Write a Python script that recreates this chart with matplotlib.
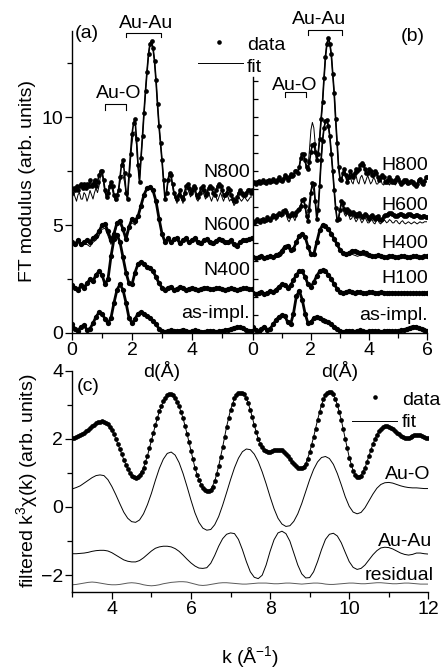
import numpy as np
import matplotlib
matplotlib.use('Agg')
import matplotlib.pyplot as plt
from matplotlib.lines import Line2D

plt.rcParams['font.family'] = ['Liberation Sans', 'DejaVu Sans']
plt.rcParams['mathtext.fontset'] = 'custom'
plt.rcParams['mathtext.rm'] = 'Liberation Sans'
plt.rcParams['font.size'] = 14

# ---- panel (a)/(b): FT modulus vs d, fine grid (0.05 A) and coarse grid (0.1 A)
d_fine = np.round(np.arange(121) * 0.05, 2)
d_coarse = np.round(np.arange(61) * 0.1, 1)

n800_data = [6.5, 6.7, 6.6, 6.8, 6.6, 6.8, 6.9, 6.7, 6.9, 6.7,
             6.9, 6.8, 7.1, 6.8, 6.9, 7.1, 6.8, 7.0, 7.3, 7.5,
             7.5, 7.1, 6.6, 6.3, 6.5, 6.8, 7.0, 6.8, 6.4, 6.2,
             6.4, 6.6, 7.2, 7.8, 8.0, 7.4, 6.5, 6.2, 7.3, 8.3,
             9.2, 9.7, 9.9, 9.0, 7.8, 7.0, 8.1, 9.1, 10.2, 11.2,
             12.1, 12.9, 13.4, 13.5, 13.2, 12.6, 11.7, 10.6, 9.6, 8.8,
             8.0, 7.1, 6.2, 6.5, 7.1, 7.4, 7.3, 6.9, 6.5, 6.3,
             6.2, 6.4, 6.6, 6.3, 6.2, 6.5, 6.8, 6.9, 6.7, 6.5,
             6.6, 6.8, 6.7, 6.4, 6.3, 6.5, 6.7, 6.8, 6.6, 6.4,
             6.5, 6.7, 6.8, 6.7, 6.5, 6.4, 6.6, 6.8, 6.9, 6.8,
             6.6, 6.4, 6.4, 6.5, 6.7, 6.6, 6.4, 6.2, 6.1, 6.1,
             6.3, 6.5, 6.6, 6.5, 6.4, 6.4, 6.5, 6.6, 6.6, 6.5,
             6.6]
n800_fit = [6.2, 6.5, 6.3, 6.1, 6.4, 6.5, 6.2, 6.2, 6.5, 6.4,
            6.1, 6.3, 6.6, 6.4, 6.2, 6.5, 6.7, 6.5, 6.8, 7.3,
            7.4, 7.0, 6.5, 6.3, 6.4, 6.6, 6.8, 6.6, 6.3, 6.1,
            6.3, 6.6, 7.0, 7.3, 7.3, 7.0, 6.6, 6.4, 7.1, 8.0,
            8.8, 9.3, 9.3, 8.7, 7.7, 7.1, 8.1, 9.1, 10.2, 11.2,
            12.1, 12.9, 13.4, 13.5, 13.2, 12.6, 11.7, 10.6, 9.6, 8.8,
            8.0, 7.1, 6.3, 6.5, 7.0, 7.3, 7.2, 6.8, 6.4, 6.2,
            6.0, 6.3, 6.5, 6.2, 6.0, 6.3, 6.6, 6.7, 6.5, 6.3,
            6.4, 6.6, 6.5, 6.2, 6.1, 6.3, 6.5, 6.6, 6.4, 6.2,
            6.3, 6.5, 6.3, 6.1, 6.3, 6.5, 6.3, 6.1, 6.3, 6.5,
            6.3, 6.1, 6.3, 6.5, 6.3, 6.1, 6.2, 6.1, 5.9, 6.0,
            6.2, 6.3, 6.2, 6.1, 6.2, 6.3, 6.2, 6.1, 6.2, 6.3,
            6.3]
n600_data = [4.2, 4.1, 4.3, 4.1, 4.2, 4.3, 4.2, 4.4, 4.5, 4.7,
             5.0, 5.05, 4.7, 4.3, 4.6, 5.1, 5.2, 4.8, 4.35, 4.9,
             5.3, 5.2, 5.4, 5.9, 6.4, 6.7, 6.75, 6.6, 6.1, 5.3,
             4.6, 4.2, 4.4, 4.2, 4.35, 4.4, 4.15, 4.3, 4.4, 4.2,
             4.3, 4.4, 4.2, 4.15, 4.3, 4.35, 4.2, 4.15, 4.25, 4.35,
             4.3, 4.2, 4.2, 4.3, 4.1, 4.05, 4.2, 4.3, 4.3, 4.35,
             4.4]
n600_fit = [4.1, 4.0, 4.2, 4.0, 4.1, 4.1, 4.0, 4.2, 4.3, 4.5,
            4.8, 4.85, 4.5, 4.1, 4.5, 5.0, 5.1, 4.7, 4.5, 5.0,
            5.1, 5.0, 5.3, 5.9, 6.4, 6.7, 6.75, 6.6, 6.1, 5.3,
            4.6, 4.2, 4.3, 4.1, 4.3, 4.3, 4.05, 4.2, 4.3, 4.1,
            4.2, 4.3, 4.1, 4.05, 4.2, 4.25, 4.1, 4.05, 4.15, 4.25,
            4.2, 4.1, 4.1, 4.2, 4.0, 3.95, 4.1, 4.2, 4.2, 4.25,
            4.3]
n400_data = [2.2, 2.1, 2.0, 2.2, 2.1, 2.3, 2.5, 2.4, 2.7, 2.85,
             2.7, 2.25, 2.5, 3.55, 4.35, 4.55, 4.2, 3.5, 2.8, 2.3,
             2.25, 2.8, 3.2, 3.3, 3.2, 3.05, 3.0, 2.85, 2.6, 2.3,
             2.1, 2.0, 2.1, 2.15, 2.0, 2.05, 2.15, 2.1, 2.0, 2.05,
             2.1, 2.05, 2.0, 2.05, 2.1, 2.07, 2.02, 2.02, 2.07, 2.08,
             2.03, 2.0, 2.04, 2.08, 2.05, 2.0, 2.02, 2.06, 2.07, 2.03,
             2.02]
n400_fit = [2.15, 2.05, 1.95, 2.1, 2.0, 2.2, 2.4, 2.3, 2.6, 2.8,
            2.65, 2.25, 2.5, 3.55, 4.35, 4.55, 4.2, 3.5, 2.8, 2.3,
            2.25, 2.8, 3.2, 3.3, 3.2, 3.05, 3.0, 2.85, 2.6, 2.3,
            2.1, 2.0, 2.05, 2.1, 1.98, 2.0, 2.1, 2.05, 1.97, 2.0,
            2.05, 2.0, 1.97, 2.0, 2.05, 2.02, 1.97, 1.98, 2.03, 2.03,
            1.98, 1.96, 2.0, 2.03, 2.0, 1.96, 1.98, 2.02, 2.02, 1.98,
            1.98]
asa_data = [0.4, 0.2, 0.1, 0.3, 0.35, 0.15, 0.2, 0.45, 0.75, 0.95,
            0.9, 0.65, 0.45, 0.7, 1.4, 2.0, 2.25, 2.0, 1.4, 0.7,
            0.45, 0.65, 0.9, 0.97, 0.9, 0.8, 0.7, 0.55, 0.4, 0.2,
            0.08, 0.05, 0.1, 0.12, 0.1, 0.08, 0.1, 0.15, 0.1, 0.05,
            0.08, 0.12, 0.1, 0.06, 0.05, 0.08, 0.1, 0.08, 0.06, 0.08,
            0.1, 0.12, 0.15, 0.2, 0.25, 0.28, 0.28, 0.22, 0.15, 0.1,
            0.1]
asa_fit = [0.38, 0.18, 0.1, 0.28, 0.33, 0.15, 0.2, 0.44, 0.74, 0.94,
           0.9, 0.65, 0.45, 0.7, 1.4, 2.0, 2.25, 2.0, 1.4, 0.7,
           0.45, 0.65, 0.9, 0.97, 0.9, 0.8, 0.7, 0.55, 0.4, 0.2,
           0.1, 0.1, 0.15, 0.18, 0.15, 0.12, 0.15, 0.2, 0.16, 0.1,
           0.12, 0.16, 0.14, 0.1, 0.08, 0.1, 0.13, 0.12, 0.1, 0.1,
           0.12, 0.15, 0.18, 0.22, 0.27, 0.3, 0.3, 0.25, 0.18, 0.13,
           0.12]

h800_data = [6.95, 7.0, 6.9, 7.0, 7.05, 6.95, 7.0, 7.1, 7.0, 6.95,
             7.05, 7.1, 7.0, 7.05, 7.15, 7.05, 7.0, 7.1, 7.2, 7.1,
             7.05, 7.15, 7.3, 7.2, 7.1, 7.2, 7.35, 7.25, 7.3, 7.5,
             7.5, 7.4, 7.7, 8.1, 8.3, 8.3, 8.0, 7.7, 7.6, 7.9,
             8.4, 8.7, 8.75, 8.4, 8.0, 8.3, 9.0, 9.9, 10.7, 11.8,
             12.8, 13.4, 13.65, 13.4, 12.9, 12.0, 11.1, 9.9, 8.8, 7.7,
             7.15, 7.1, 7.4, 7.6, 7.3, 7.0, 7.2, 7.5, 7.3, 7.2,
             7.4, 7.6, 7.5, 7.6, 7.8, 7.85, 7.8, 7.6, 7.4, 7.4,
             7.6, 7.5, 7.3, 7.3, 7.5, 7.4, 7.2, 7.1, 7.2, 7.3,
             7.2, 7.0, 7.0, 7.1, 7.2, 7.1, 7.0, 7.0, 7.1, 7.2,
             7.15, 7.0, 6.9, 7.0, 7.1, 7.1, 7.0, 6.95, 7.0, 7.05,
             7.0, 6.9, 6.8, 6.9, 7.1, 7.15, 7.0, 6.9, 7.05, 7.2,
             7.2]
h800_fit = [6.95, 6.95, 6.9, 6.95, 7.0, 6.9, 6.95, 7.05, 6.95, 6.9,
            7.0, 7.05, 6.95, 7.0, 7.1, 7.0, 6.95, 7.05, 7.15, 7.05,
            7.0, 7.1, 7.25, 7.15, 7.05, 7.15, 7.3, 7.2, 7.25, 7.45,
            7.45, 7.4, 7.7, 8.1, 8.3, 8.2, 7.9, 7.6, 7.7, 8.5,
            9.4, 9.75, 9.5, 8.7, 8.1, 8.4, 9.0, 9.9, 10.7, 11.8,
            12.8, 13.4, 13.65, 13.4, 12.9, 12.0, 11.1, 9.9, 8.8, 7.7,
            7.15, 7.1, 7.3, 7.5, 7.2, 6.9, 7.1, 7.3, 7.0, 6.9,
            7.2, 7.3, 7.0, 6.9, 7.2, 7.3, 7.1, 6.9, 7.1, 7.3,
            7.1, 6.9, 7.0, 7.2, 7.1, 6.9, 6.9, 7.1, 7.1, 6.9,
            6.85, 7.0, 7.1, 6.95, 6.85, 6.95, 7.05, 6.95, 6.85, 6.95,
            7.05, 6.95, 6.85, 6.9, 7.0, 6.95, 6.85, 6.85, 6.95, 6.95,
            6.85, 6.8, 6.8, 6.9, 7.0, 6.95, 6.85, 6.85, 6.95, 7.0,
            7.0]
h600_data = [5.2, 5.1, 5.2, 5.3, 5.2, 5.15, 5.25, 5.3, 5.2, 5.25,
             5.35, 5.3, 5.25, 5.35, 5.45, 5.4, 5.35, 5.45, 5.55, 5.5,
             5.5, 5.65, 5.7, 5.6, 5.45, 5.4, 5.45, 5.55, 5.5, 5.45,
             5.6, 5.7, 5.75, 5.9, 6.15, 6.2, 5.9, 5.4, 5.2, 5.7,
             6.5, 6.95, 6.9, 6.1, 5.3, 5.7, 6.8, 8.0, 8.9, 9.5,
             9.8, 9.85, 9.6, 9.1, 8.3, 7.5, 6.6, 5.8, 5.25, 5.3,
             5.7, 6.1, 6.0, 5.75, 5.6, 5.75, 5.65, 5.5, 5.55, 5.6,
             5.5, 5.4, 5.5, 5.55, 5.45, 5.35, 5.4, 5.5, 5.45, 5.35,
             5.3, 5.4, 5.45, 5.35, 5.3, 5.35, 5.4, 5.3, 5.25, 5.3,
             5.4, 5.45, 5.45, 5.5, 5.55, 5.55, 5.5, 5.45, 5.4, 5.4,
             5.45, 5.5, 5.5, 5.45, 5.4, 5.4, 5.45, 5.5, 5.5, 5.45,
             5.4, 5.4, 5.45, 5.45, 5.4, 5.35, 5.35, 5.4, 5.4, 5.35,
             5.35]
h600_fit = [5.15, 5.05, 5.15, 5.25, 5.15, 5.1, 5.2, 5.25, 5.15, 5.2,
            5.3, 5.25, 5.15, 5.25, 5.4, 5.3, 5.2, 5.35, 5.5, 5.4,
            5.35, 5.55, 5.65, 5.5, 5.25, 5.15, 5.3, 5.5, 5.35, 5.2,
            5.4, 5.65, 5.7, 5.9, 6.1, 6.1, 5.8, 5.5, 5.6, 6.1,
            6.6, 6.8, 6.6, 6.0, 5.5, 5.9, 6.8, 8.0, 8.9, 9.5,
            9.8, 9.85, 9.6, 9.1, 8.3, 7.5, 6.6, 5.8, 5.25, 5.35,
            5.7, 6.0, 5.8, 5.5, 5.4, 5.55, 5.45, 5.25, 5.3, 5.45,
            5.3, 5.15, 5.25, 5.4, 5.25, 5.1, 5.2, 5.35, 5.25, 5.1,
            5.1, 5.25, 5.25, 5.1, 5.05, 5.2, 5.25, 5.1, 5.05, 5.15,
            5.25, 5.2, 5.1, 5.15, 5.25, 5.2, 5.1, 5.1, 5.2, 5.2,
            5.1, 5.05, 5.15, 5.2, 5.1, 5.05, 5.1, 5.15, 5.1, 5.05,
            5.1, 5.15, 5.1, 5.05, 5.1, 5.15, 5.1, 5.1, 5.15, 5.15,
            5.15]
h400_data = [3.5, 3.45, 3.5, 3.55, 3.45, 3.5, 3.55, 3.5, 3.6, 3.65,
             3.8, 4.0, 4.05, 3.85, 3.9, 4.2, 4.5, 4.6, 4.45, 4.0,
             3.65, 3.65, 4.2, 4.75, 5.0, 4.95, 4.8, 4.6, 4.35, 4.1,
             3.85, 3.7, 3.65, 3.7, 3.8, 3.8, 3.75, 3.7, 3.75, 3.7,
             3.6, 3.55, 3.55, 3.6, 3.55, 3.5, 3.5, 3.55, 3.55, 3.5,
             3.5, 3.55, 3.55, 3.5, 3.5, 3.55, 3.55, 3.5, 3.5, 3.55,
             3.55]
h400_fit = [3.45, 3.4, 3.45, 3.5, 3.4, 3.45, 3.5, 3.45, 3.5, 3.5,
            3.6, 3.85, 3.95, 3.8, 3.9, 4.2, 4.5, 4.6, 4.45, 4.0,
            3.65, 3.65, 4.2, 4.75, 5.0, 4.95, 4.8, 4.6, 4.35, 4.1,
            3.85, 3.65, 3.55, 3.6, 3.65, 3.6, 3.55, 3.6, 3.6, 3.55,
            3.5, 3.5, 3.5, 3.55, 3.5, 3.45, 3.45, 3.5, 3.5, 3.45,
            3.45, 3.5, 3.5, 3.45, 3.45, 3.5, 3.5, 3.45, 3.45, 3.5,
            3.5]
h100_data = [1.85, 1.8, 1.85, 1.9, 1.8, 1.85, 1.95, 1.9, 2.0, 2.15,
             2.25, 2.2, 2.1, 2.2, 2.45, 2.7, 2.85, 2.85, 2.6, 2.25,
             2.15, 2.35, 2.65, 2.85, 2.9, 2.85, 2.7, 2.5, 2.25, 2.05,
             1.9, 1.85, 1.9, 1.95, 1.9, 1.85, 1.9, 1.9, 1.85, 1.85,
             1.9, 1.88, 1.85, 1.85, 1.88, 1.87, 1.85, 1.85, 1.87, 1.85,
             1.83, 1.85, 1.87, 1.85, 1.83, 1.85, 1.85, 1.83, 1.83, 1.85,
             1.85]
h100_fit = [1.82, 1.78, 1.82, 1.86, 1.78, 1.82, 1.9, 1.86, 1.96, 2.1,
            2.2, 2.16, 2.08, 2.18, 2.44, 2.7, 2.85, 2.85, 2.6, 2.25,
            2.15, 2.35, 2.65, 2.85, 2.9, 2.85, 2.7, 2.5, 2.25, 2.05,
            1.88, 1.82, 1.86, 1.9, 1.86, 1.82, 1.86, 1.86, 1.82, 1.82,
            1.86, 1.84, 1.82, 1.82, 1.84, 1.83, 1.82, 1.82, 1.83, 1.82,
            1.8, 1.82, 1.83, 1.82, 1.8, 1.82, 1.82, 1.8, 1.8, 1.82,
            1.82]
asb_data = [0.3, 0.15, 0.05, 0.2, 0.3, 0.15, 0.2, 0.4, 0.6, 0.75,
            0.82, 0.8, 0.5, 0.4, 0.9, 1.7, 1.95, 1.55, 0.9, 0.45,
            0.5, 0.7, 0.75, 0.7, 0.6, 0.55, 0.5, 0.4, 0.3, 0.2,
            0.1, 0.05, 0.08, 0.1, 0.08, 0.06, 0.1, 0.12, 0.08, 0.05,
            0.07, 0.1, 0.1, 0.07, 0.05, 0.07, 0.1, 0.1, 0.08, 0.08,
            0.1, 0.12, 0.15, 0.2, 0.25, 0.3, 0.3, 0.25, 0.18, 0.12,
            0.1]
asb_fit = [0.28, 0.14, 0.06, 0.2, 0.28, 0.15, 0.2, 0.4, 0.6, 0.75,
           0.82, 0.8, 0.5, 0.4, 0.9, 1.7, 1.95, 1.55, 0.9, 0.45,
           0.5, 0.7, 0.75, 0.7, 0.6, 0.55, 0.5, 0.4, 0.3, 0.2,
           0.12, 0.1, 0.12, 0.14, 0.12, 0.1, 0.13, 0.15, 0.12, 0.1,
           0.1, 0.13, 0.13, 0.1, 0.09, 0.1, 0.13, 0.13, 0.11, 0.11,
           0.12, 0.14, 0.17, 0.22, 0.27, 0.31, 0.31, 0.26, 0.2, 0.14,
           0.12]

# ---- panel (c): filtered k^3 chi(k); data every 0.05, model curves every 0.1
k_data = np.round(np.arange(60, 241) * 0.05, 2)
k = np.round(np.arange(30, 121) / 10, 1)
chi_data = [2.02, 2.03, 2.05, 2.07, 2.10, 2.14, 2.18, 2.22, 2.27, 2.32,
            2.37, 2.41, 2.45, 2.48, 2.50, 2.51, 2.50, 2.47, 2.42, 2.35,
            2.25, 2.13, 2.00, 1.85, 1.70, 1.54, 1.38, 1.23, 1.10, 1.00,
            0.92, 0.87, 0.86, 0.88, 0.93, 1.02, 1.15, 1.31, 1.50, 1.72,
            1.95, 2.18, 2.40, 2.61, 2.80, 2.96, 3.10, 3.20, 3.27, 3.30,
            3.31, 3.27, 3.20, 3.09, 2.95, 2.79, 2.60, 2.38, 2.15, 1.90,
            1.65, 1.40, 1.15, 0.95, 0.78, 0.65, 0.55, 0.49, 0.46, 0.46,
            0.50, 0.60, 0.75, 0.96, 1.20, 1.47, 1.75, 2.05, 2.35, 2.62,
            2.85, 3.03, 3.18, 3.27, 3.33, 3.35, 3.35, 3.30, 3.20, 3.05,
            2.85, 2.63, 2.40, 2.19, 2.00, 1.86, 1.75, 1.68, 1.64, 1.62,
            1.62, 1.64, 1.66, 1.68, 1.68, 1.68, 1.66, 1.61, 1.55, 1.48,
            1.40, 1.32, 1.25, 1.19, 1.15, 1.13, 1.13, 1.17, 1.25, 1.40,
            1.60, 1.82, 2.05, 2.30, 2.55, 2.79, 3.00, 3.16, 3.28, 3.35,
            3.38, 3.36, 3.30, 3.17, 3.00, 2.79, 2.55, 2.28, 2.00, 1.72,
            1.45, 1.23, 1.05, 0.94, 0.88, 0.87, 0.92, 1.02, 1.15, 1.32,
            1.50, 1.68, 1.85, 2.00, 2.12, 2.22, 2.30, 2.34, 2.36, 2.36,
            2.35, 2.32, 2.28, 2.23, 2.18, 2.13, 2.08, 2.05, 2.03, 2.02,
            2.03, 2.05, 2.08, 2.10, 2.11, 2.11, 2.10, 2.08, 2.05, 2.03,
            2.02]
chi_fit = [2.03, 2.05, 2.1, 2.17, 2.26, 2.36, 2.45, 2.5, 2.5, 2.42,
           2.25, 2.0, 1.7, 1.39, 1.11, 0.92, 0.87, 0.94, 1.15, 1.5,
           1.95, 2.4, 2.8, 3.1, 3.27, 3.31, 3.2, 2.95, 2.6, 2.15,
           1.65, 1.15, 0.79, 0.55, 0.47, 0.51, 0.75, 1.2, 1.75, 2.35,
           2.85, 3.18, 3.33, 3.34, 3.2, 2.85, 2.4, 2.0, 1.75, 1.65,
           1.63, 1.66, 1.67, 1.65, 1.55, 1.4, 1.26, 1.16, 1.14, 1.26,
           1.6, 2.05, 2.55, 3.0, 3.28, 3.37, 3.3, 3.0, 2.55, 2.0,
           1.46, 1.06, 0.89, 0.93, 1.15, 1.5, 1.85, 2.12, 2.29, 2.35,
           2.34, 2.28, 2.18, 2.09, 2.04, 2.04, 2.08, 2.1, 2.09, 2.05,
           2.03]
au_o = [0.53, 0.57, 0.62, 0.7, 0.78, 0.86, 0.92, 0.94, 0.92, 0.8,
        0.6, 0.36, 0.1, -0.15, -0.33, -0.43, -0.45, -0.38, -0.2, 0.07,
        0.4, 0.78, 1.13, 1.4, 1.57, 1.61, 1.52, 1.3, 0.98, 0.6,
        0.2, -0.17, -0.45, -0.62, -0.68, -0.66, -0.52, -0.28, 0.05, 0.42,
        0.8, 1.15, 1.43, 1.62, 1.7, 1.68, 1.55, 1.33, 1.03, 0.68,
        0.3, -0.05, -0.33, -0.5, -0.57, -0.55, -0.42, -0.2, 0.1, 0.45,
        0.8, 1.1, 1.32, 1.45, 1.48, 1.42, 1.25, 0.98, 0.65, 0.3,
        0.02, -0.15, -0.2, -0.16, -0.02, 0.18, 0.38, 0.55, 0.66, 0.71,
        0.72, 0.7, 0.66, 0.62, 0.59, 0.57, 0.56, 0.56, 0.55, 0.54,
        0.54]
au_au = [-1.37, -1.37, -1.36, -1.35, -1.33, -1.3, -1.28, -1.27, -1.27, -1.29,
         -1.34, -1.41, -1.48, -1.55, -1.59, -1.61, -1.61, -1.57, -1.49, -1.39,
         -1.29, -1.21, -1.17, -1.15, -1.15, -1.17, -1.22, -1.3, -1.41, -1.53,
         -1.64, -1.73, -1.79, -1.8, -1.78, -1.65, -1.42, -1.15, -0.93, -0.8,
         -0.76, -0.78, -0.95, -1.25, -1.6, -1.9, -2.06, -2.1, -2.0, -1.7,
         -1.3, -0.96, -0.76, -0.71, -0.78, -1.0, -1.35, -1.7, -1.96, -2.08,
         -2.07, -1.9, -1.6, -1.25, -0.95, -0.8, -0.77, -0.85, -1.05, -1.33,
         -1.6, -1.77, -1.83, -1.8, -1.7, -1.55, -1.4, -1.28, -1.2, -1.18,
         -1.19, -1.23, -1.29, -1.35, -1.39, -1.41, -1.39, -1.35, -1.35, -1.37,
         -1.38]
residual = [-2.28, -2.27, -2.25, -2.23, -2.21, -2.2, -2.21, -2.23, -2.25, -2.27,
            -2.28, -2.28, -2.27, -2.25, -2.23, -2.22, -2.23, -2.25, -2.28, -2.3,
            -2.31, -2.3, -2.28, -2.25, -2.23, -2.21, -2.2, -2.19, -2.19, -2.2,
            -2.23, -2.26, -2.29, -2.3, -2.29, -2.27, -2.25, -2.23, -2.22, -2.22,
            -2.23, -2.24, -2.25, -2.26, -2.26, -2.25, -2.24, -2.23, -2.23, -2.23,
            -2.24, -2.25, -2.25, -2.24, -2.23, -2.23, -2.24, -2.25, -2.26, -2.25,
            -2.24, -2.23, -2.23, -2.24, -2.26, -2.27, -2.27, -2.26, -2.25, -2.24,
            -2.23, -2.23, -2.24, -2.25, -2.25, -2.24, -2.23, -2.22, -2.22, -2.23,
            -2.24, -2.25, -2.25, -2.24, -2.23, -2.23, -2.24, -2.25, -2.26, -2.26,
            -2.26]

curves_a = [(d_fine, n800_data, n800_fit), (d_coarse, n600_data, n600_fit),
            (d_coarse, n400_data, n400_fit), (d_coarse, asa_data, asa_fit)]
curves_b = [(d_fine, h800_data, h800_fit), (d_fine, h600_data, h600_fit),
            (d_coarse, h400_data, h400_fit), (d_coarse, h100_data, h100_fit),
            (d_coarse, asb_data, asb_fit)]
labels_a = [('N800', 7.22), ('N600', 4.75), ('N400', 2.67), ('as-impl.', 0.7)]
labels_b = [('H800', 7.53), ('H600', 5.68), ('H400', 3.92), ('H100', 2.3), ('as-impl.', 0.62)]

fig = plt.figure(figsize=(4.45, 6.7), dpi=100)
ax_a = fig.add_axes([0.1618, 0.503, 0.4045, 0.4513])
ax_b = fig.add_axes([0.5679, 0.503, 0.3924, 0.4513])
ax_c = fig.add_axes([0.1625, 0.116, 0.8, 0.331])
for ax in (ax_a, ax_b, ax_c):
    ax.set_facecolor('none')

for ax, curves in ((ax_a, curves_a), (ax_b, curves_b)):
    for x, dat, fit in curves:
        if len(x) > 100:
            ax.plot(x, dat, 'o-', color='k', ms=3.4, mew=0, lw=1.2, zorder=2)
        else:
            # densely sampled measurements merge into a thick trace
            ax.plot(x, dat, 'o-', color='k', ms=3.8, mew=0, lw=2.0, zorder=2)
        ax.plot(x, fit, '-', color='k', lw=0.7, zorder=3)
    ax.set_xlim(0, 6)
    ax.set_ylim(0, 14)
    for s in ('top', 'right'):
        ax.spines[s].set_visible(False)
    ax.spines['left'].set_linewidth(1.0)
    ax.spines['bottom'].set_linewidth(1.0)
    ax.tick_params(which='both', direction='out', width=0.9, labelsize=14, pad=1.5)
    ax.tick_params(which='major', length=5)
    ax.tick_params(which='minor', length=3.5)
    ax.text(0.5, -0.125, 'd(Å)', transform=ax.transAxes, ha='center', va='center', fontsize=14)

ax_a.set_xticks([0, 2, 4])
ax_a.set_xticks([1, 3, 5], minor=True)
ax_a.set_yticks([0, 5, 10])
ax_a.set_yticks([2.5, 7.5, 12.5], minor=True)

ax_b.set_xticks([0, 2, 4, 6])
ax_b.set_xticks([1, 3, 5], minor=True)
ax_b.set_yticks(np.arange(0, 11.9, 18 / 21.6))
ax_b.tick_params(axis='y', which='both', direction='in', length=3.5, labelleft=False)
ax_b.spines['left'].set_bounds(0, 11.85)

for name, yb in labels_a:
    ax_a.text(5.93, yb, name, ha='right', va='baseline', fontsize=14)
for name, yb in labels_b:
    ax_b.text(6.02, yb, name, ha='right', va='baseline', fontsize=14, clip_on=False)

# shell brackets
def bracket(ax, x0, x1, y, drop, label, lx, ly):
    ax.plot([x0, x0, x1, x1], [y - drop, y, y, y - drop], color='k', lw=0.8, clip_on=False)
    ax.text(lx, ly, label, ha='center', va='baseline', fontsize=14)

bracket(ax_a, 1.8, 2.97, 13.9, 0.2, 'Au-Au', 2.47, 14.1)
bracket(ax_a, 1.1, 1.8, 10.59, 0.25, 'Au-O', 1.57, 10.87)
bracket(ax_b, 1.9, 3.06, 14.05, 0.23, 'Au-Au', 2.28, 14.32)
bracket(ax_b, 1.11, 1.83, 11.16, 0.22, 'Au-O', 1.44, 11.27)

ax_a.text(0.1, 13.87, '(a)', ha='left', va='center', fontsize=14)
ax_b.text(5.92, 13.75, '(b)', ha='right', va='center', fontsize=14)

fig.text(28 / 445, 1 - 181.5 / 670, 'FT modulus (arb. units)', rotation=90,
         ha='center', va='center', fontsize=14)

# legend for (a)/(b)
def legend(xdot, ydot, xl0, xl1, yl, xt, yb_data, yb_fit):
    fig.add_artist(Line2D([xdot / 445], [1 - ydot / 670], marker='o', color='k',
                          ms=3.3, mew=0, transform=fig.transFigure))
    fig.add_artist(Line2D([xl0 / 445, xl1 / 445], [1 - yl / 670] * 2, color='k',
                          lw=0.7, transform=fig.transFigure))
    fig.text(xt / 445, 1 - yb_data / 670, 'data', va='baseline', fontsize=14)
    fig.text(xt / 445, 1 - yb_fit / 670, 'fit', va='baseline', fontsize=14)

legend(219.3, 41.7, 198, 243, 63.3, 247, 50, 71.7)

# ---- panel (c)
ax_c.plot(k_data, chi_data, 'o', color='k', ms=3.4, mew=0, zorder=2)
ax_c.plot(k, chi_fit, '-', color='k', lw=0.7, zorder=3)
ax_c.plot(k, au_o, '-', color='k', lw=0.7)
ax_c.plot(k, au_au, '-', color='k', lw=0.7)
ax_c.plot(k, residual, '-', color='0.35', lw=0.7)
ax_c.set_xlim(3, 12)
ax_c.set_ylim(-2.5, 4.0)
for s in ('top', 'right'):
    ax_c.spines[s].set_visible(False)
ax_c.spines['left'].set_linewidth(1.0)
ax_c.spines['bottom'].set_linewidth(1.0)
ax_c.set_xticks([4, 6, 8, 10, 12])
ax_c.set_xticks([3, 5, 7, 9, 11], minor=True)
ax_c.set_yticks([-2, 0, 2, 4])
ax_c.set_yticks([-1, 1, 3], minor=True)
ax_c.tick_params(which='both', direction='out', width=0.9, labelsize=14, pad=1.5)
ax_c.tick_params(which='major', length=5)
ax_c.tick_params(which='minor', length=3.5)

ax_c.text(3.12, 3.53, '(c)', ha='left', va='center', fontsize=14)
ax_c.text(12.06, 0.82, 'Au-O', ha='right', va='baseline', fontsize=14)
ax_c.text(12.1, -1.13, 'Au-Au', ha='right', va='baseline', fontsize=14)
ax_c.text(12.13, -2.13, 'residual', ha='right', va='baseline', fontsize=14)
ax_c.text(0.5, -0.29, 'k (Å$\\mathregular{^{-1}}$)', transform=ax_c.transAxes,
          ha='center', va='center', fontsize=14)
fig.text(27 / 445, 1 - 481 / 670, 'filtered k$\\mathregular{^3}$χ(k) (arb. units)',
         rotation=90, ha='center', va='center', fontsize=14)

legend(375, 397.3, 351.7, 396.7, 420.7, 401.7, 405, 427)

fig.savefig('out.png', dpi=100)
